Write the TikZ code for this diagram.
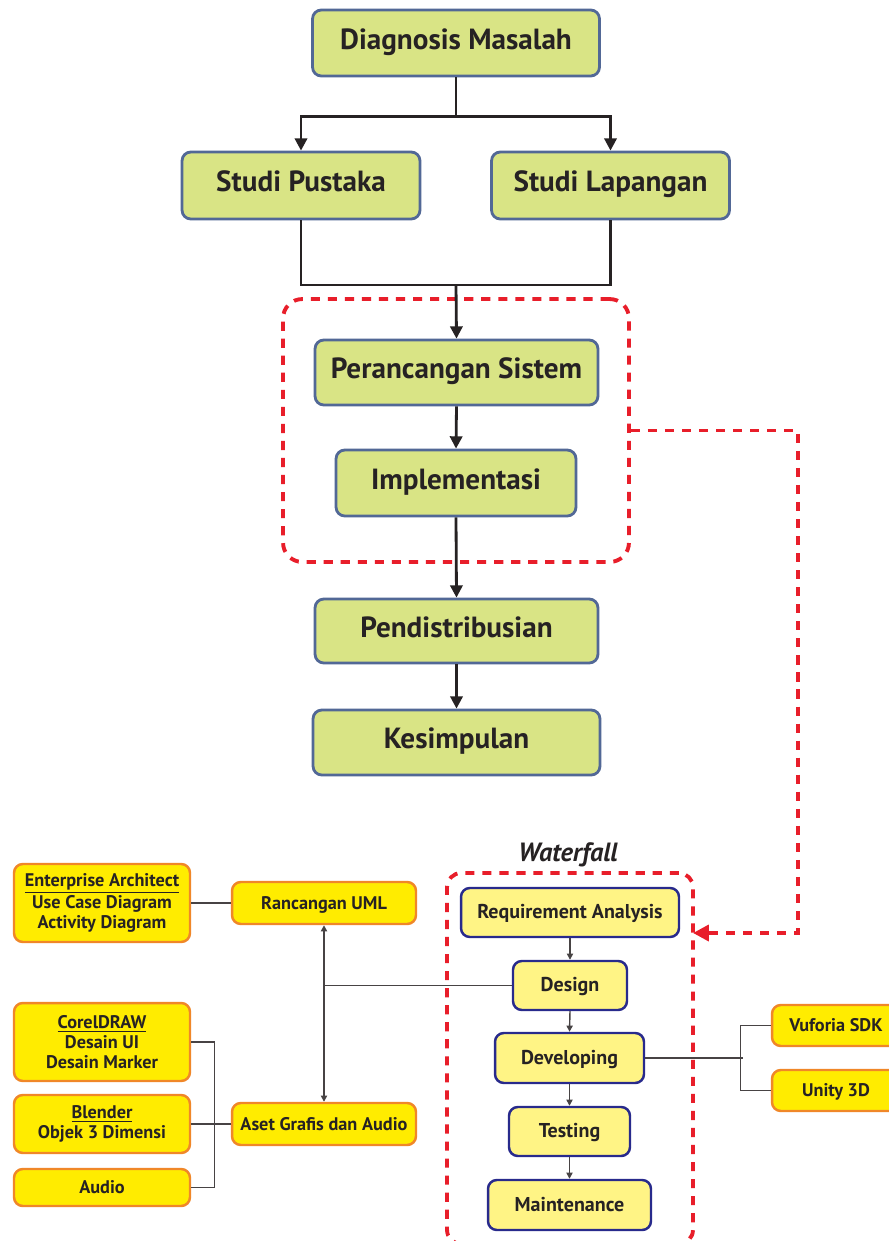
\documentclass[tikz,border=0pt]{standalone}
\usepackage{fontspec}
\setmainfont{PT Sans}
\usetikzlibrary{arrows.meta,positioning}
\definecolor{boxgreen}{RGB}{217,228,133}
\definecolor{boxedge}{RGB}{82,104,150}
\definecolor{wfyellow}{RGB}{255,244,133}
\definecolor{wfedge}{RGB}{40,42,140}
\definecolor{tlyellow}{RGB}{255,236,0}
\definecolor{tlorange}{RGB}{240,135,40}
\definecolor{dashred}{RGB}{232,30,42}
\definecolor{ink}{RGB}{38,34,35}

\begin{document}
\begin{tikzpicture}[x=0.02cm,y=-0.02cm,
    oneline/.style={text height=0.7em,text depth=0em},
    mainbox/.style={oneline,draw=boxedge,fill=boxgreen,line width=1.6pt,rounded corners=5pt,text=ink,
      font=\fontsize{16.6}{19}\selectfont\bfseries,minimum height=1.32cm},
    wfbox/.style={oneline,draw=wfedge,fill=wfyellow,line width=1.4pt,rounded corners=5pt,text=ink,
      font=\fontsize{11.4}{13}\selectfont\bfseries,minimum height=0.98cm},
    toolbox/.style={draw=tlorange,fill=tlyellow,line width=1.4pt,rounded corners=5pt,text=ink,
      font=\fontsize{10.4}{11.3}\selectfont\bfseries,align=center,minimum width=3.52cm},
    trunk/.style={draw=ink,line width=1.6pt},
    flow/.style={trunk,-{Triangle[length=7pt,width=7pt]}},
    link/.style={draw=ink!85,line width=0.8pt},
    smallflow/.style={link,-{Triangle[length=3.5pt,width=3.5pt]}},
    grp/.style={draw=dashred,line width=2.2pt,dash pattern=on 5.2pt off 4.5pt,rounded corners=11pt}]
    \useasboundingbox (0,0) rectangle (889,1241);
    \fill[white] (0,0) rectangle (889,1241);
    % main column
    \node[grp,minimum width=6.92cm,minimum height=5.26cm] (sys) at (456,430.5) {};
    \node[mainbox,minimum width=5.74cm] (diag) at (456,43) {Diagnosis Masalah};
    \node[mainbox,minimum width=4.76cm,minimum height=1.34cm] (pus) at (301,185.5) {Studi Pustaka};
    \node[mainbox,minimum width=4.76cm,minimum height=1.34cm] (lap) at (610.5,185.5) {Studi Lapangan};
    \node[mainbox,minimum width=5.66cm,minimum height=1.30cm] (per) at (456.5,372.5) {Perancangan Sistem};
    \node[mainbox,minimum width=4.80cm] (imp) at (456,483) {Implementasi};
    \node[mainbox,minimum width=5.66cm,minimum height=1.28cm] (dis) at (456.5,631) {Pendistribusian};
    \node[mainbox,minimum width=5.74cm,minimum height=1.30cm] (kes) at (456.5,742.5) {Kesimpulan};
    \coordinate (join) at (456,285);
    \draw[flow] (diag.south) -- ++(0,39) -| (pus.north);
    \draw[flow] (diag.south) -- ++(0,39) -| (lap.north);
    \draw[trunk] (pus.south) |- (join) -| (lap.south);
    \draw[flow] (join) -- (per.north);
    \draw[flow] (per.south) -- (imp.north);
    \draw[flow] (imp.south) -- (dis.north);
    \draw[flow] (dis.south) -- (kes.north);
    % waterfall
    \node[grp,rounded corners=8pt,minimum width=4.92cm,minimum height=7.42cm] (wf) at (570,1058.5) {};
    \node[font=\fontsize{15}{17}\selectfont\bfseries\itshape,text=ink] (wftitle) at (568,855) {Waterfall};
    \node[wfbox,minimum width=4.36cm] (req) at (570,912.5) {Requirement Analysis};
    \node[wfbox,minimum width=2.28cm] (des) at (570,985.5) {Design};
    \node[wfbox,minimum width=2.98cm,minimum height=1cm] (dev) at (569.5,1058) {Developing};
    \node[wfbox,minimum width=2.42cm] (tes) at (569.5,1131.5) {Testing};
    \node[wfbox,minimum width=3.26cm,minimum height=1cm] (mai) at (569.5,1205) {Maintenance};
    \draw[smallflow] (req.south) -- (des.north);
    \draw[smallflow] (des.south) -- (dev.north);
    \draw[smallflow] (dev.south) -- (tes.north);
    \draw[smallflow] (tes.south) -- (mai.north);
    \coordinate (bend) at (798,933);
    \coordinate (wfin) at (693,933);
    \draw[grp,rounded corners=0pt,-{Triangle[length=9pt,width=9pt]}] (sys.east) -| (bend) -- (wfin);
    % tools
    \node[toolbox,minimum height=1.56cm] (ea) at (102,903) {\underline{Enterprise Architect}\\Use Case Diagram\\Activity Diagram};
    \node[toolbox,oneline,minimum width=3.68cm,minimum height=0.84cm] (uml) at (324,903) {Rancangan UML};
    \node[toolbox,minimum height=1.56cm] (cdr) at (102,1042) {\underline{CorelDRAW}\\Desain UI\\Desain Marker};
    \node[toolbox,minimum height=1.16cm] (bld) at (102,1124) {\underline{Blender}\\Objek 3 Dimensi};
    \node[toolbox,oneline,minimum height=0.74cm] (aud) at (102,1187.5) {Audio};
    \node[toolbox,oneline,minimum width=3.68cm,minimum height=0.84cm] (aset) at (324,1124) {Aset Grafis dan Audio};
    \node[toolbox,oneline,minimum width=2.56cm,minimum height=0.82cm] (vuf) at (836,1025.5) {Vuforia SDK};
    \node[toolbox,oneline,minimum width=2.56cm,minimum height=0.82cm] (uni) at (836,1090.5) {Unity 3D};
    \draw[link] (ea.east) -- (uml.west);
    \draw[link,{Triangle[length=3.5pt,width=3.5pt]}-{Triangle[length=3.5pt,width=3.5pt]}] (uml.south) -- (aset.north);
    \draw[link] (des.west) -- (des.west -| uml.south);
    \draw[link] (cdr.east) -- ++(23,0) |- (aud.east);
    \draw[link] (bld.east) -- (aset.west);
    \draw[link] (dev.east) -- ++(98,0);
    \draw[link] (vuf.west) -- ++(-30,0) |- (uni.west);
\end{tikzpicture}
\end{document}
